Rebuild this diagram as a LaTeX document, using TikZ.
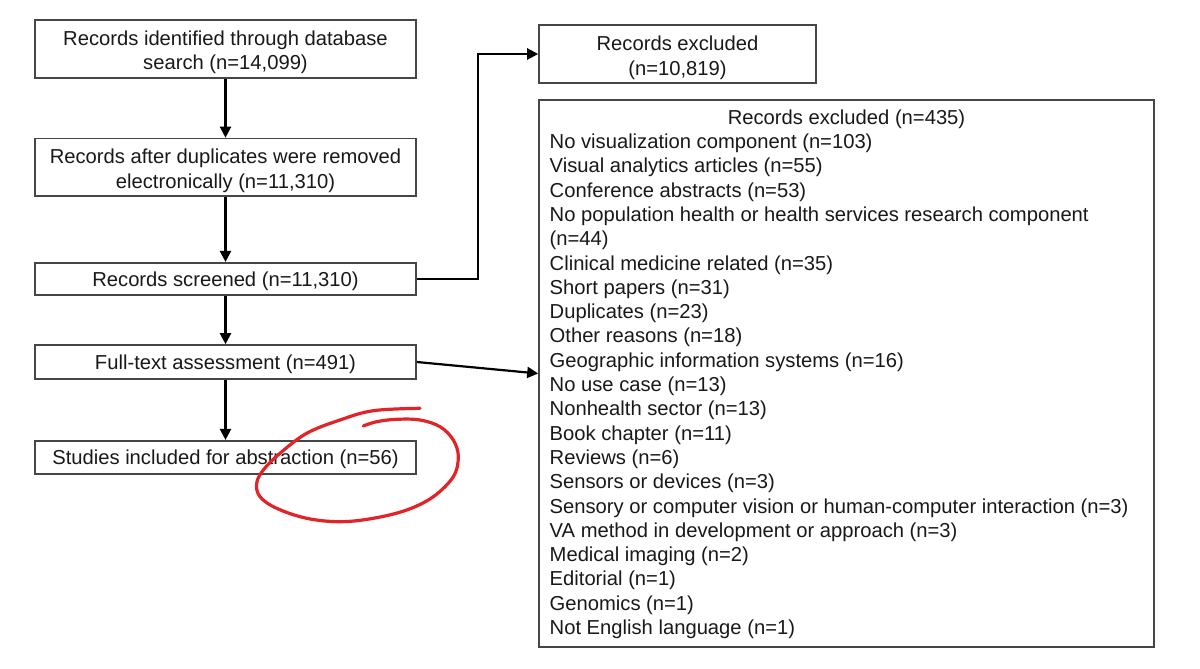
\documentclass[tikz,border=0pt]{standalone}
\usepackage{fontspec}
\setmainfont{Liberation Sans}
\usetikzlibrary{arrows.meta}
\definecolor{boxgray}{RGB}{70,70,70}
\definecolor{txt}{RGB}{25,25,25}
\definecolor{redmark}{RGB}{226,35,40}
\begin{document}
\begin{tikzpicture}[x=1pt,y=-1pt,
  font=\fontsize{20.2}{24.3}\selectfont,
  box/.style={draw=boxgray, line width=1.6pt, inner sep=0pt, align=center, text=txt,
    text height=14.4pt, text depth=0pt},
  twoline/.style={text height=42pt, text depth=0pt},
  arr/.style={-{Triangle[length=11pt,width=11pt]}, line width=2.2pt, draw=black},
  item/.style={anchor=base west, inner sep=0pt, text=txt},
  redstroke/.style={draw=redmark, line width=3.2pt, line cap=round, line join=round}]
\useasboundingbox (0,0) rectangle (1200,669);
\fill[white] (0,0) rectangle (1200,669);

% left column
\node[box, twoline, minimum width=381pt, minimum height=58pt] (ident) at (225.5,49)
  {Records identified through database\\search (n=14,099)};
\node[box, twoline, minimum width=381pt, minimum height=57.5pt] (dedup) at (225.5,167.25)
  {Records after duplicates were removed\\electronically (n=11,310)};
\node[box, minimum width=381pt, minimum height=32.5pt] (screened) at (225.5,279)
  {Records screened (n=11,310)};
\node[box, minimum width=381pt, minimum height=34pt] (fulltext) at (225.5,362)
  {Full-text assessment (n=491)};
\node[box, minimum width=381pt, minimum height=33.5pt] (included) at (225.5,457.5)
  {Studies included for abstraction (n=56)};

% right column
\node[box, twoline, minimum width=277pt, minimum height=58pt] (excl1) at (677.5,54)
  {Records excluded\\(n=10,819)};
\node[box, minimum width=615pt, minimum height=547pt] (excl2) at (846.5,373.5) {};
\node[anchor=base, inner sep=0pt, text=txt] (excl2title) at (846.5,124.5) {Records excluded (n=435)};
\foreach \t [count=\i from 0] in {
  {No visualization component (n=103)},
  {Visual analytics articles (n=55)},
  {Conference abstracts (n=53)},
  {No population health or health services research component},
  {(n=44)},
  {Clinical medicine related (n=35)},
  {Short papers (n=31)},
  {Duplicates (n=23)},
  {Other reasons (n=18)},
  {Geographic information systems (n=16)},
  {No use case (n=13)},
  {Nonhealth sector (n=13)},
  {Book chapter (n=11)},
  {Reviews (n=6)},
  {Sensors or devices (n=3)},
  {Sensory or computer vision or human-computer interaction (n=3)},
  {VA method in development or approach (n=3)},
  {Medical imaging (n=2)},
  {Editorial (n=1)},
  {Genomics (n=1)},
  {Not English language (n=1)}}
  \node[item] (reason\i) at (549.5,148.5+24.3*\i) {\t};

% connectors
\draw[arr] (ident.south) -- (dedup.north);
\draw[arr] (dedup.south) -- (screened.north);
\draw[arr] (screened.south) -- (fulltext.north);
\draw[arr] (fulltext.south) -- (included.north);
\coordinate (elbow) at (478,0);
\draw[arr] (screened.east) -- (screened.east -| elbow) |- (excl1.west);
\draw[arr] (fulltext.east) -- (excl2.west);

% red hand-drawn mark
\draw[redstroke] plot[smooth, tension=0.6] coordinates {
  (420,408.3) (373.3,410.7) (340,420) (306.7,433.3) (280,453.3) (263.3,470)
  (256.7,483.3) (260,496.7) (276.7,508.3) (306.7,518.3) (340,521.7) (373.3,518.3)
  (406.7,510) (433.3,496.7) (453.3,476.7) (458.3,456.7) (453.3,440) (440,426.7)
  (420,420) (396.7,419.3) (376.7,421.7) (363.3,426)};
\end{tikzpicture}
\end{document}
